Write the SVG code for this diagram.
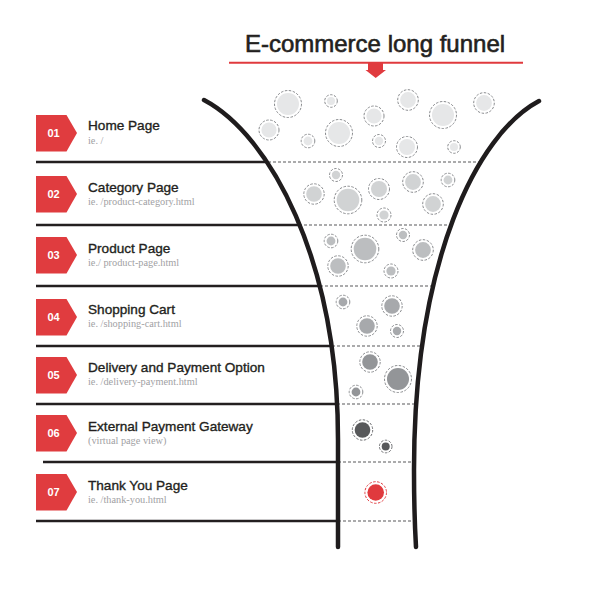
<svg xmlns="http://www.w3.org/2000/svg" width="600" height="600" viewBox="0 0 600 600">
<style>
.title{font-family:"Liberation Sans",Arial,sans-serif;font-size:24px;fill:#231f20;stroke:#231f20;stroke-width:0.6;text-anchor:middle}
.badge{fill:#e03c3f}
.num{font-family:"Liberation Sans",Arial,sans-serif;font-size:11px;font-weight:bold;fill:#ffffff;text-anchor:middle}
.lbl{font-family:"Liberation Sans",Arial,sans-serif;font-size:13.6px;fill:#231f20;stroke:#231f20;stroke-width:0.35}
.sub{font-family:"Liberation Serif","Times New Roman",serif;font-size:10.3px;fill:#9fa1a4}
.row{stroke:#231f20;stroke-width:2.4;fill:none}
.dash{stroke:#58595b;stroke-width:1.2;stroke-dasharray:3 2;fill:none}
.funnel{stroke:#1f1c1d;stroke-width:4.5;fill:none;stroke-linecap:round}
.ring{fill:none;stroke:#8a8c8f;stroke-width:1;stroke-dasharray:2.5 1.5}
.s1{fill:#e6e7e8}.s2{fill:#d1d3d4}.s3{fill:#bcbec0}.s4{fill:#a7a9ac}.s5{fill:#939598}.s6{fill:#58595b}.s7{fill:#e03a3e}
</style>
<defs>
<polygon id="badgeShape" points="36,-18 66.5,-18 77,0 66.5,18.5 36,18.5"/>
</defs>
<g id="header">
<text class="title" x="375" y="52">E-commerce long funnel</text>
<line x1="229" y1="62.7" x2="523" y2="62.7" stroke="#e03a3e" stroke-width="2"/>
<polygon points="368,63 383,63 383,70 386,70 375.7,78 365.5,70 368,70" fill="#e03a3e"/>
</g>
<g id="connectors">
<line class="row" x1="36" y1="162" x2="268" y2="162"/>
<line class="row" x1="36" y1="225" x2="299" y2="225"/>
<line class="row" x1="36" y1="286" x2="320" y2="286"/>
<line class="row" x1="36" y1="346" x2="332" y2="346"/>
<line class="row" x1="36" y1="404" x2="337" y2="404"/>
<line class="row" x1="43" y1="462" x2="338" y2="462"/>
<line class="row" x1="36" y1="521" x2="338" y2="521"/>
<line class="dash" x1="268" y1="162" x2="483" y2="162"/>
<line class="dash" x1="299" y1="225" x2="450" y2="225"/>
<line class="dash" x1="320" y1="286" x2="432" y2="286"/>
<line class="dash" x1="332" y1="346" x2="423" y2="346"/>
<line class="dash" x1="337" y1="404" x2="417" y2="404"/>
<line class="dash" x1="338" y1="462" x2="414" y2="462"/>
<line class="dash" x1="338" y1="521" x2="414" y2="521"/>
</g>
<g id="funnel">
<path class="funnel" d="M204,100 C270,135 338,260 338,440 L338,547"/>
<path class="funnel" d="M539,101 C477,134 414,260 414,470 C414,500 415,530 416,547"/>
</g>
<g id="bubbles">
<g id="bubbles-1">
<circle class="s1" cx="288" cy="104" r="11"/><circle class="ring" cx="288" cy="104" r="13.5"/>
<circle class="s1" cx="331" cy="101" r="4"/><circle class="ring" cx="331" cy="101" r="6.3"/>
<circle class="s1" cx="374" cy="116" r="7.6"/><circle class="ring" cx="374" cy="116" r="10"/>
<circle class="s1" cx="408" cy="100" r="7.9"/><circle class="ring" cx="408" cy="100" r="10.3"/>
<circle class="s1" cx="443" cy="115" r="11"/><circle class="ring" cx="443" cy="115" r="13.5"/>
<circle class="s1" cx="484" cy="103" r="7.9"/><circle class="ring" cx="484" cy="103" r="10.3"/>
<circle class="s1" cx="269" cy="130" r="7.6"/><circle class="ring" cx="269" cy="130" r="10"/>
<circle class="s1" cx="339" cy="133" r="11"/><circle class="ring" cx="339" cy="133" r="13.5"/>
<circle class="s1" cx="308" cy="141" r="4.4"/><circle class="ring" cx="308" cy="141" r="6.8"/>
<circle class="s1" cx="379" cy="141" r="4.2"/><circle class="ring" cx="379" cy="141" r="6.5"/>
<circle class="s1" cx="407" cy="147" r="8"/><circle class="ring" cx="407" cy="147" r="10.5"/>
<circle class="s1" cx="454" cy="147" r="4"/><circle class="ring" cx="454" cy="147" r="6.3"/>
</g>
<g id="bubbles-2">
<circle class="s2" cx="336" cy="175" r="4.2"/><circle class="ring" cx="336" cy="175" r="6.5"/>
<circle class="s2" cx="314" cy="194" r="7.8"/><circle class="ring" cx="314" cy="194" r="10.2"/>
<circle class="s2" cx="348" cy="200" r="11.3"/><circle class="ring" cx="348" cy="200" r="13.8"/>
<circle class="s2" cx="379" cy="189" r="8"/><circle class="ring" cx="379" cy="189" r="10.5"/>
<circle class="s2" cx="413" cy="182" r="7.9"/><circle class="ring" cx="413" cy="182" r="10.3"/>
<circle class="s2" cx="448" cy="180" r="4.4"/><circle class="ring" cx="448" cy="180" r="6.8"/>
<circle class="s2" cx="433" cy="204" r="7.9"/><circle class="ring" cx="433" cy="204" r="10.3"/>
<circle class="s2" cx="384" cy="215" r="4.6"/><circle class="ring" cx="384" cy="215" r="7"/>
</g>
<g id="bubbles-3">
<circle class="s3" cx="331" cy="241" r="4.4"/><circle class="ring" cx="331" cy="241" r="6.8"/>
<circle class="s3" cx="365" cy="249" r="11.3"/><circle class="ring" cx="365" cy="249" r="13.8"/>
<circle class="s3" cx="403" cy="235" r="4.2"/><circle class="ring" cx="403" cy="235" r="6.5"/>
<circle class="s3" cx="423" cy="250" r="7.9"/><circle class="ring" cx="423" cy="250" r="10.3"/>
<circle class="s3" cx="338" cy="266" r="7.8"/><circle class="ring" cx="338" cy="266" r="10.2"/>
<circle class="s3" cx="391" cy="271" r="4.6"/><circle class="ring" cx="391" cy="271" r="7"/>
</g>
<g id="bubbles-4">
<circle class="s4" cx="343" cy="302" r="4.4"/><circle class="ring" cx="343" cy="302" r="6.8"/>
<circle class="s4" cx="392" cy="306" r="7.8"/><circle class="ring" cx="392" cy="306" r="10.2"/>
<circle class="s4" cx="367" cy="326" r="7.8"/><circle class="ring" cx="367" cy="326" r="10.2"/>
<circle class="s4" cx="397" cy="331" r="4.2"/><circle class="ring" cx="397" cy="331" r="6.5"/>
</g>
<g id="bubbles-5">
<circle class="s5" cx="370" cy="362" r="7.8"/><circle class="ring" cx="370" cy="362" r="10.2"/>
<circle class="s5" cx="398" cy="379" r="11"/><circle class="ring" cx="398" cy="379" r="13.5"/>
<circle class="s5" cx="356" cy="392" r="4.4"/><circle class="ring" cx="356" cy="392" r="6.8"/>
</g>
<g id="bubbles-6">
<circle class="s6" cx="362.5" cy="430" r="7.8"/><circle class="ring" cx="362.5" cy="430" r="10.2" style="stroke:#6d6e71"/>
<circle class="s6" cx="385.7" cy="446.5" r="4"/><circle class="ring" cx="385.7" cy="446.5" r="6.3" style="stroke:#6d6e71"/>
</g>
<g id="bubbles-7">
<circle class="s7" cx="375.7" cy="492.5" r="8.3"/><circle class="ring" cx="375.7" cy="492.5" r="10.8" style="stroke:#e03a3e"/>
</g>
</g>
<g id="step-01" transform="translate(0,133)">
<use href="#badgeShape" class="badge"/>
<text class="num" x="53.5" y="4">01</text>
<text class="lbl" x="88" y="-3">Home Page</text>
<text class="sub" x="88" y="11">ie. /</text>
</g>
<g id="step-02" transform="translate(0,194)">
<use href="#badgeShape" class="badge"/>
<text class="num" x="53.5" y="4">02</text>
<text class="lbl" x="88" y="-2.3">Category Page</text>
<text class="sub" x="88" y="11">ie. /product-category.html</text>
</g>
<g id="step-03" transform="translate(0,255)">
<use href="#badgeShape" class="badge"/>
<text class="num" x="53.5" y="4">03</text>
<text class="lbl" x="88" y="-2.3">Product Page</text>
<text class="sub" x="88" y="11">ie./ product-page.html</text>
</g>
<g id="step-04" transform="translate(0,317)">
<use href="#badgeShape" class="badge"/>
<text class="num" x="53.5" y="4">04</text>
<text class="lbl" x="88" y="-2.7">Shopping Cart</text>
<text class="sub" x="88" y="10">ie. /shopping-cart.html</text>
</g>
<g id="step-05" transform="translate(0,375)">
<use href="#badgeShape" class="badge"/>
<text class="num" x="53.5" y="4">05</text>
<text class="lbl" x="88" y="-2.7">Delivery and Payment Option</text>
<text class="sub" x="88" y="10">ie. /delivery-payment.html</text>
</g>
<g id="step-06" transform="translate(0,433)">
<use href="#badgeShape" class="badge"/>
<text class="num" x="53.5" y="4">06</text>
<text class="lbl" x="88" y="-2.3">External Payment Gateway</text>
<text class="sub" x="88" y="11">(virtual page view)</text>
</g>
<g id="step-07" transform="translate(0,492)">
<use href="#badgeShape" class="badge"/>
<text class="num" x="53.5" y="4">07</text>
<text class="lbl" x="88" y="-2">Thank You Page</text>
<text class="sub" x="88" y="10.7">ie. /thank-you.html</text>
</g>
</svg>
